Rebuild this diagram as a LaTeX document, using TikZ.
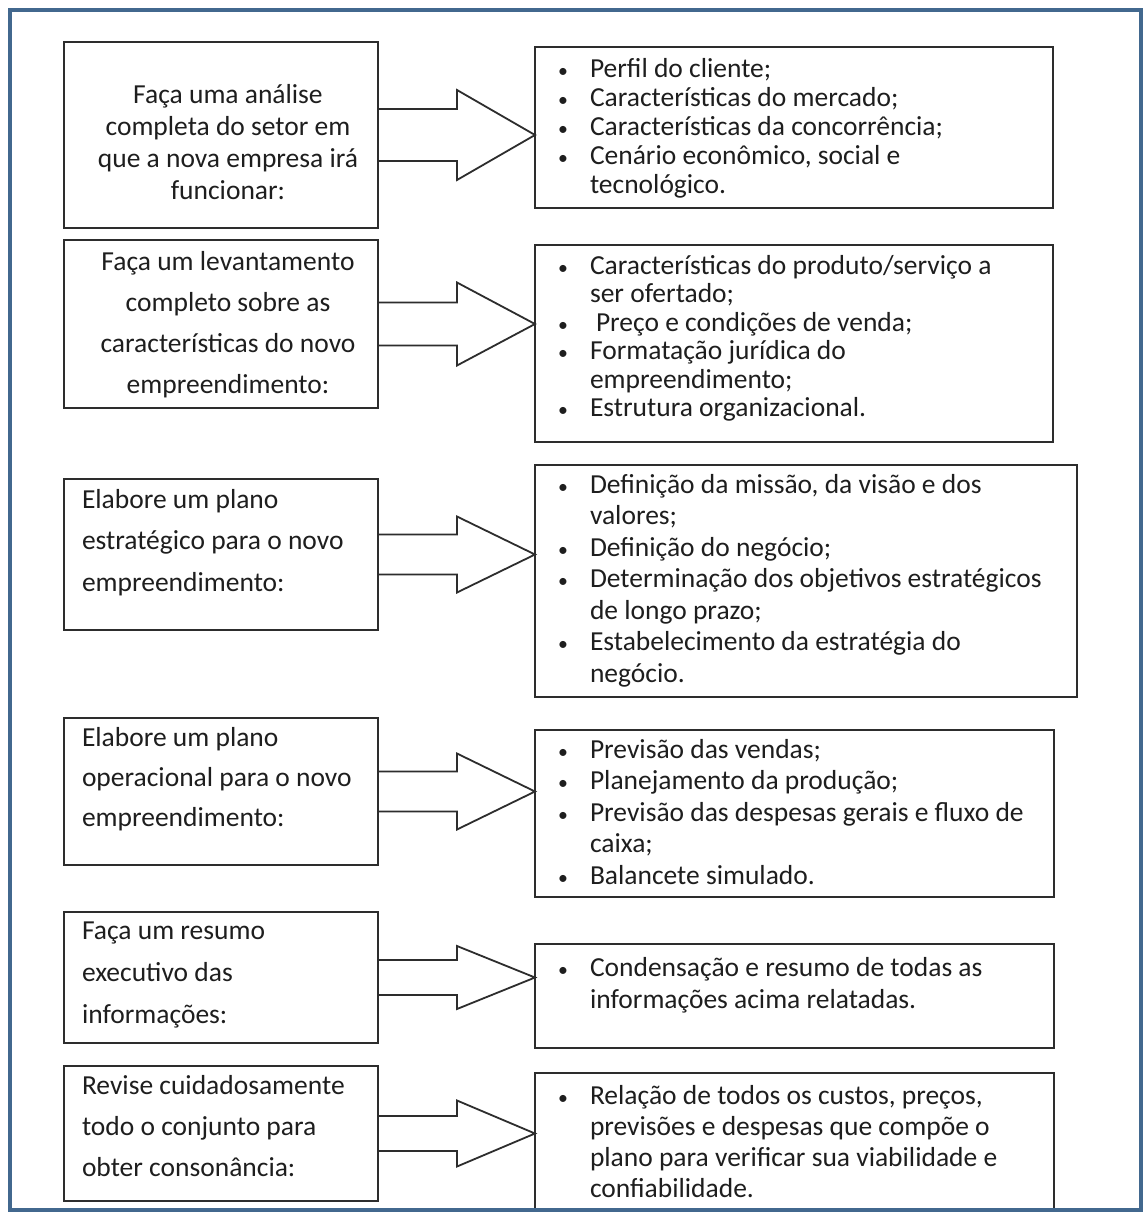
\documentclass[tikz,border=0pt]{standalone}
\usepackage{fontspec}
\setmainfont{Carlito}
\usetikzlibrary{calc}
\definecolor{moldura}{RGB}{66,104,142}
\definecolor{traco}{RGB}{45,45,45}
\definecolor{tinta}{RGB}{30,30,30}
\newcommand{\inbox}[5]{\parbox[c][#2pt][t]{#1pt}{\fontsize{27.5pt}{#4pt}\selectfont\vspace*{#3pt}#5}}
\newcommand{\firstline}{\rule{0pt}{21pt}}
\newcommand{\itm}{\par\hangindent=34pt\hangafter=1\noindent\makebox[34pt][l]{\hspace{2pt}\scalebox{0.72}{\textbullet}}}
\newcommand{\esq}{\raggedright\leftskip=18pt\noindent\firstline}
\newcommand{\cen}{\centering\leftskip=14pt plus 1fil\noindent\firstline}
\newcommand{\dir}{\raggedright\leftskip=21pt}

\begin{document}
\begin{tikzpicture}[x=1pt,y=-1pt,
    caixa/.style={draw=traco, line width=1.8pt, inner sep=0pt, outer sep=0pt, anchor=north west, text=tinta},
    seta/.style={draw=traco, line width=1.8pt, line join=miter}]
  \fill[white] (0,0) rectangle (1145,1215);
  \useasboundingbox (0,0) rectangle (1145,1215);

  \node[caixa] (etapa1) at (64,42) {\inbox{314}{186}{40}{32}{\cen Faça uma análise\\ completa do setor em\\ que a nova empresa irá\\ funcionar:}};
  \node[caixa] (etapa2) at (64,240) {\inbox{314}{168}{9.4}{41}{\cen Faça um levantamento\\ completo sobre as\\ características do novo\\ empreendimento:}};
  \node[caixa] (etapa3) at (64,479) {\inbox{314}{151}{8.4}{41.5}{\esq Elabore um plano\\ estratégico para o novo\\ empreendimento:}};
  \node[caixa] (etapa4) at (64,718) {\inbox{314}{147}{7.4}{40}{\esq Elabore um plano\\ operacional para o novo\\ empreendimento:}};
  \node[caixa] (etapa5) at (64,912) {\inbox{314}{131}{6.4}{42}{\esq Faça um resumo\\ executivo das\\ informações:}};
  \node[caixa] (etapa6) at (64,1066) {\inbox{314}{135}{7.4}{41}{\esq Revise cuidadosamente\\ todo o conjunto para\\ obter consonância:}};

  \node[caixa] (itens1) at (535,47) {\inbox{518}{161}{9.4}{29}{\dir
    \itm\firstline Perfil do cliente;
    \itm Características do mercado;
    \itm Características da concorrência;
    \itm Cenário econômico, social e\newline tecnológico.}};
  \node[caixa] (itens2) at (535,245) {\inbox{518}{197}{8.4}{28.5}{\dir
    \itm\firstline Características do produto/serviço a\newline ser ofertado;
    \itm \hspace{6pt}Preço e condições de venda;
    \itm Formatação jurídica do\newline empreendimento;
    \itm Estrutura organizacional.}};
  \node[caixa] (itens3) at (535,465) {\inbox{542}{232}{7.4}{31.5}{\dir
    \itm\firstline Definição da missão, da visão e dos\newline valores;
    \itm Definição do negócio;
    \itm Determinação dos objetivos estratégicos\newline de longo prazo;
    \itm Estabelecimento da estratégia do\newline negócio.}};
  \node[caixa] (itens4) at (535,730) {\inbox{519}{167}{7.4}{31.5}{\dir
    \itm\firstline Previsão das vendas;
    \itm Planejamento da produção;
    \itm Previsão das despesas gerais e fluxo de\newline caixa;
    \itm Balancete simulado.}};
  \node[caixa] (itens5) at (535,944) {\inbox{519}{104}{11.4}{32}{\dir
    \itm\firstline Condensação e resumo de todas as\newline informações acima relatadas.}};
  \node[caixa] (itens6) at (535,1073) {\inbox{519}{137}{10.4}{31}{\dir
    \itm\firstline Relação de todos os custos, preços,\newline previsões e despesas que compõe o\newline plano para verificar sua viabilidade e\newline confiabilidade.}};

  \foreach \i/\s/\h in {1/26/45,2/21.5/41.5,3/20/38,4/20/38,5/17.5/31.5,6/17.5/33}{
    \coordinate (ponta\i) at (itens\i.west |- etapa\i.east);
    \draw[seta] ($(etapa\i.east)+(0,-\s)$) -| ($(ponta\i)+(-78,-\h)$) -- (ponta\i)
      -- ($(ponta\i)+(-78,\h)$) |- ($(etapa\i.east)+(0,\s)$);
  }

  \draw[moldura, line width=4pt] (10,10) rectangle (1141,1210);
\end{tikzpicture}
\end{document}
